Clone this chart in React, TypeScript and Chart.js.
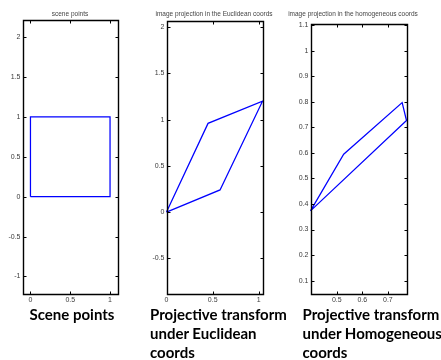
import React, { useEffect, useRef } from "react";
import { Chart, registerables } from "chart.js";
Chart.register(...registerables);

// ---- data ----
const sceneX = [0, 1, 1, 0, 0];
const sceneY = [0, 0, 1, 1, 0];
const euclidX = [0, 0.58, 1.04, 0.45, 0];
const euclidY = [0, 0.24, 1.2, 0.96, 0];
const homoX = [0.397, 0.527, 0.756, 0.773, 0.397];
const homoY = [0.373, 0.595, 0.797, 0.727, 0.373];

const sceneXTicks = [0, 0.5, 1];
const sceneYTicks = [-1, -0.5, 0, 0.5, 1, 1.5, 2];
const euclidXTicks = [0, 0.5, 1];
const euclidYTicks = [-0.5, 0, 0.5, 1, 1.5, 2];
const homoXTicks = [0.5, 0.6, 0.7];
const homoYTicks = [0.1, 0.2, 0.3, 0.4, 0.5, 0.6, 0.7, 0.8, 0.9, 1, 1.1];

const titles = [
  "scene points",
  "image projection in the Euclidean coords",
  "image projection in the homogeneous coords",
];
const captions = [
  ["Scene points"],
  ["Projective transform", "under Euclidean", "coords"],
  ["Projective transform", "under Homogeneous", "coords"],
];

const W = 441;
const H = 360;
const Y_AXIS_W = 20;
const X_AXIS_H = 14;

type Panel = {
  xs: number[];
  ys: number[];
  xTicks: number[];
  yTicks: number[];
  xMin: number;
  xMax: number;
  yMin: number;
  yMax: number;
  area: { left: number; right: number; top: number; bottom: number };
};

const panels: Panel[] = [
  {
    xs: sceneX, ys: sceneY, xTicks: sceneXTicks, yTicks: sceneYTicks,
    xMin: -0.1, xMax: 1.1, yMin: -1.22, yMax: 2.216,
    area: { left: 22.5, right: 118, top: 20, bottom: 294 },
  },
  {
    xs: euclidX, ys: euclidY, xTicks: euclidXTicks, yTicks: euclidYTicks,
    xMin: 0, xMax: 1.04, yMin: -0.881, yMax: 2.073,
    area: { left: 166.5, right: 262.5, top: 20.5, bottom: 293.5 },
  },
  {
    xs: homoX, ys: homoY, xTicks: homoXTicks, yTicks: homoYTicks,
    xMin: 0.397, xMax: 0.773, yMin: 0.0475, yMax: 1.105,
    area: { left: 310.5, right: 406.5, top: 24, bottom: 294 },
  },
];

const boxPlugin = {
  id: "matlabBox",
  afterDraw(chart: any) {
    const { ctx, chartArea } = chart;
    const xs = chart.scales.x;
    const ys = chart.scales.y;
    const l = Math.round(chartArea.left) + 0.5;
    const r = Math.round(chartArea.right) + 0.5;
    const t = Math.round(chartArea.top) + 0.5;
    const b = Math.round(chartArea.bottom) + 0.5;
    const tl = 3;
    ctx.save();
    ctx.strokeStyle = "#000";
    ctx.lineWidth = 1.4;
    ctx.beginPath();
    ctx.rect(l, t, r - l, b - t);
    ctx.stroke();
    ctx.lineWidth = 1;
    ctx.beginPath();
    xs.ticks.forEach((tk: any) => {
      const px = Math.round(xs.getPixelForValue(tk.value)) + 0.5;
      ctx.moveTo(px, b);
      ctx.lineTo(px, b - tl);
      ctx.moveTo(px, t);
      ctx.lineTo(px, t + tl);
    });
    ys.ticks.forEach((tk: any) => {
      const py = Math.round(ys.getPixelForValue(tk.value)) + 0.5;
      ctx.moveTo(l, py);
      ctx.lineTo(l + tl, py);
      ctx.moveTo(r, py);
      ctx.lineTo(r - tl, py);
    });
    ctx.stroke();
    ctx.restore();
  },
};

function PanelChart({ p }: { p: Panel }) {
  const ref = useRef<HTMLCanvasElement>(null);
  useEffect(() => {
    if (!ref.current) return;
    const tickFont = { family: "'Liberation Sans', Arial, sans-serif", size: 7 };
    const chart = new Chart(ref.current, {
      type: "scatter",
      data: {
        datasets: [
          {
            data: p.xs.map((x, i) => ({ x, y: p.ys[i] })),
            showLine: true,
            borderColor: "#0000ff",
            borderWidth: 1.25,
            pointRadius: 0,
            tension: 0,
            clip: false as any,
          },
        ],
      },
      options: {
        animation: false,
        responsive: false,
        devicePixelRatio: 1,
        events: [],
        layout: {
          padding: {
            left: p.area.left - Y_AXIS_W,
            right: W - p.area.right,
            top: p.area.top,
            bottom: H - p.area.bottom - X_AXIS_H,
          },
        },
        plugins: { legend: { display: false }, tooltip: { enabled: false }, title: { display: false } },
        scales: {
          x: {
            type: "linear",
            min: p.xMin,
            max: p.xMax,
            afterBuildTicks: (s: any) => { s.ticks = p.xTicks.map((v) => ({ value: v })); },
            afterFit: (s: any) => { s.height = X_AXIS_H; },
            grid: { display: false, drawTicks: false },
            border: { display: false },
            ticks: { font: tickFont, color: "#3a3a3a", padding: 2, maxRotation: 0, autoSkip: false, callback: (v: any) => String(v) },
          },
          y: {
            type: "linear",
            min: p.yMin,
            max: p.yMax,
            afterBuildTicks: (s: any) => { s.ticks = p.yTicks.map((v) => ({ value: v })); },
            afterFit: (s: any) => { s.width = Y_AXIS_W; },
            grid: { display: false, drawTicks: false },
            border: { display: false },
            ticks: { font: tickFont, color: "#3a3a3a", padding: 2, autoSkip: false, callback: (v: any) => String(v) },
          },
        },
      },
      plugins: [boxPlugin],
    });
    return () => chart.destroy();
  }, [p]);
  return (
    <canvas
      ref={ref}
      width={W}
      height={H}
      style={{ position: "absolute", left: 0, top: 0, width: W, height: H }}
    />
  );
}

const titlePos = [
  { cx: 70, cy: 13.5 },
  { cx: 214, cy: 14 },
  { cx: 353, cy: 14 },
];
const captionPos = [
  { x: 72, y: 314, center: true },
  { x: 150, y: 314, center: false },
  { x: 302.5, y: 314, center: false },
];

export default function App() {
  return (
    <div style={{ position: "fixed", left: 0, top: 0, width: W, height: H, background: "#fff", overflow: "hidden" }}>
      {panels.map((p, i) => (
        <PanelChart key={i} p={p} />
      ))}
      {titles.map((t, i) => (
        <div
          key={"t" + i}
          style={{
            position: "absolute",
            left: titlePos[i].cx - 100,
            width: 200,
            top: titlePos[i].cy - 5,
            height: 10,
            lineHeight: "10px",
            textAlign: "center",
            fontFamily: "'Liberation Sans', Arial, sans-serif",
            fontSize: 6.5,
            color: "#444",
            whiteSpace: "nowrap",
          }}
        >
          {t}
        </div>
      ))}
      {captions.map((lines, i) => (
        <div
          key={"c" + i}
          style={{
            position: "absolute",
            left: captionPos[i].center ? captionPos[i].x - 70 : captionPos[i].x,
            width: captionPos[i].center ? 140 : 160,
            top: captionPos[i].y - 9.5,
            textAlign: captionPos[i].center ? "center" : "left",
            fontFamily: "Lato, 'Noto Sans', sans-serif",
            fontWeight: 700,
            fontSize: 15,
            lineHeight: "19px",
            color: "#000",
            whiteSpace: "nowrap",
          }}
        >
          {lines.map((l, j) => (
            <div key={j}>{l}</div>
          ))}
        </div>
      ))}
    </div>
  );
}
